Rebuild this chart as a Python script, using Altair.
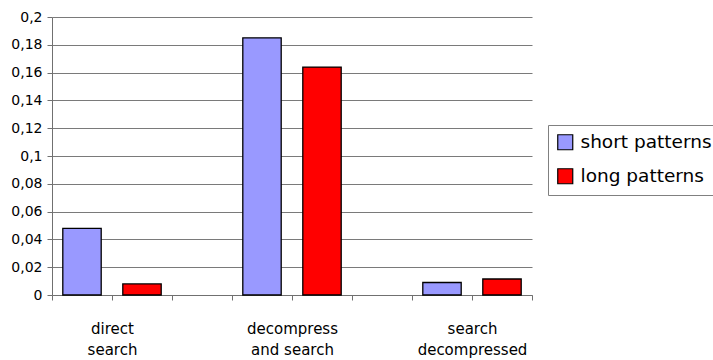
import json
import altair as alt
import pandas as pd

# Category groups and the two-line text under each group
categories = ["direct search", "decompress and search", "search decompressed"]
category_lines = [["direct", "search"], ["decompress", "and search"], ["search", "decompressed"]]

# Series values per category
short_patterns = [0.048, 0.185, 0.009]
long_patterns = [0.008, 0.164, 0.0115]

series_names = ["short patterns", "long patterns"]
series_colors = ["#9999FF", "#FF0000"]

y_ticks = [0, 0.02, 0.04, 0.06, 0.08, 0.1, 0.12, 0.14, 0.16, 0.18, 0.2]

# Each category takes three slots: short, long, then an empty spacer slot
rows = []
for g, cat in enumerate(categories):
    for k, (name, vals) in enumerate(zip(series_names, [short_patterns, long_patterns])):
        rows.append({"category": cat, "series": name, "value": vals[g], "slot": 3 * g + k})
df = pd.DataFrame(rows)

n_slots = 3 * len(categories) - 1
label_expr = " : ".join(
    f"datum.value == {3 * g + 1} ? {json.dumps(lines)}" for g, lines in enumerate(category_lines)
) + " : ''"

FONT = "DejaVu Sans"

bars = (
    alt.Chart(df)
    .transform_calculate(x0="datum.slot + 0.18", x1="datum.slot + 0.82")
    .mark_bar(stroke="black", strokeWidth=1.3)
    .encode(
        x=alt.X(
            "x0:Q",
            scale=alt.Scale(domain=[0, n_slots], nice=False, zero=False),
            axis=alt.Axis(
                title=None,
                values=list(range(n_slots + 1)),
                labelExpr=label_expr,
                grid=False,
                ticks=True,
                tickSize=5,
                tickColor="#707070",
                domainColor="#707070",
                labelFont=FONT,
                labelFontSize=15,
                labelColor="black",
                labelPadding=21,
                labelLineHeight=21,
                labelOverlap=False,
                labelFlush=False,
                labelBound=False,
            ),
        ),
        x2="x1:Q",
        y=alt.Y(
            "value:Q",
            scale=alt.Scale(domain=[0, 0.2], nice=False),
            axis=alt.Axis(
                title=None,
                values=y_ticks,
                labelExpr="replace(format(datum.value, '~g'), '.', ',')",
                grid=True,
                gridColor="#7a7a7a",
                gridWidth=1,
                tickSize=5,
                tickColor="#707070",
                domainColor="#707070",
                labelFont=FONT,
                labelFontSize=14,
                labelColor="black",
                labelPadding=5,
            ),
        ),
        y2=alt.datum(0),
        color=alt.Color(
            "series:N",
            scale=alt.Scale(domain=series_names, range=series_colors),
            legend=alt.Legend(
                title=None,
                orient="none",
                legendX=496,
                legendY=108,
                symbolType="square",
                symbolSize=225,
                symbolStrokeColor="black",
                symbolStrokeWidth=1.2,
                symbolOpacity=1,
                labelFont=FONT,
                labelFontSize=18.5,
                labelColor="black",
                labelOffset=6,
                padding=8,
                rowPadding=13,
                strokeColor="#808080",
                fillColor="white",
            ),
        ),
    )
)

chart = (
    bars.properties(
        width=480,
        height=278,
        autosize=alt.AutoSizeParams(type="none"),
        padding={"left": 52, "top": 17, "right": 181, "bottom": 65},
        background="white",
    )
    .configure_view(stroke=None)
)

chart.save("out.html", embed_options={"renderer": "svg", "actions": False})
